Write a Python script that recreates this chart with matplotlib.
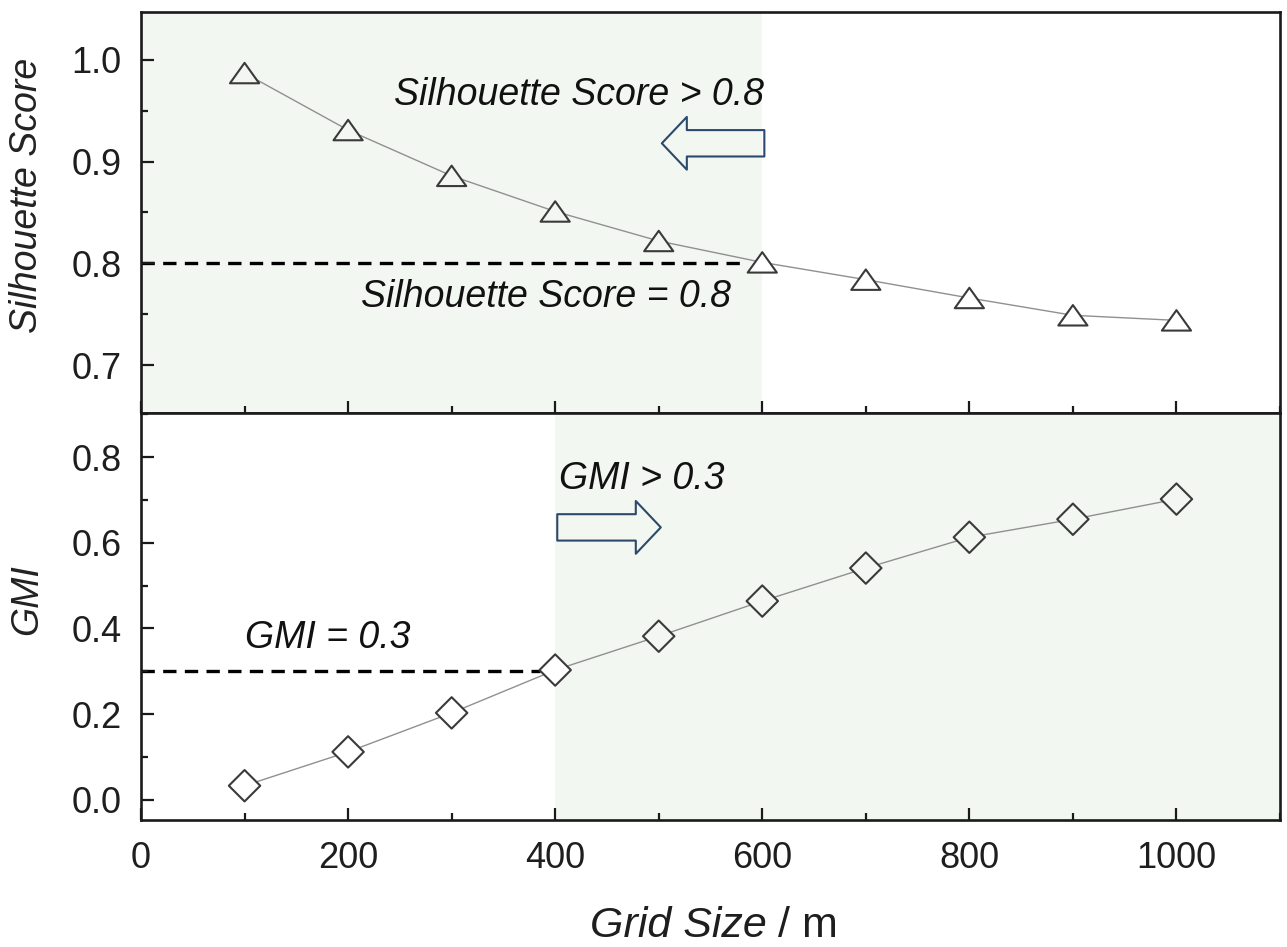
import matplotlib
matplotlib.use("Agg")
import matplotlib.pyplot as plt
from matplotlib.patches import FancyArrowPatch
from matplotlib.ticker import MultipleLocator
from matplotlib.path import Path

plt.rcParams['font.family'] = ['Liberation Sans', 'DejaVu Sans']

grid_size = [100, 200, 300, 400, 500, 600, 700, 800, 900, 1000]
silhouette = [0.987, 0.931, 0.886, 0.851, 0.822, 0.801, 0.784, 0.766, 0.749, 0.744]
gmi = [0.033, 0.112, 0.203, 0.303, 0.382, 0.464, 0.541, 0.613, 0.655, 0.702]
sil_threshold = 0.8
gmi_threshold = 0.3
sil_limit_x = 600
gmi_limit_x = 400

W, H = 1287, 947
fig = plt.figure(figsize=(W / 100, H / 100), dpi=100)
L, R = 141 / W, 1280 / W
y_top, y_mid, y_bot = 1 - 12 / H, 1 - 413 / H, 1 - 820 / H
ax1 = fig.add_axes([L, y_mid, R - L, y_top - y_mid])
ax2 = fig.add_axes([L, y_bot, R - L, y_mid - y_bot], sharex=ax1)

shade = '#f3f7f1'
line_c = '#909090'
edge_c = '#3a3a3a'
arrow_c = '#2b4a6b'
dash = (0, (4, 2.5))

tri = Path([(0, 0.7), (-1, -0.7), (1, -0.7), (0, 0.7)],
           [Path.MOVETO, Path.LINETO, Path.LINETO, Path.CLOSEPOLY])

# Top panel
ax1.set_xlim(0, 1100)
ax1.set_ylim(0.653, 1.047)
ax1.axvspan(0, sil_limit_x, color=shade, zorder=0, lw=0)
ax1.plot([0, 580], [sil_threshold, sil_threshold], ls=dash, color='black', lw=2.4, zorder=1)
ax1.plot(grid_size, silhouette, color=line_c, lw=1.0, zorder=2)
fc1 = [shade if x < sil_limit_x else 'white' for x in grid_size]
ax1.scatter(grid_size, silhouette, marker=tri, s=21**2, facecolors=fc1,
            edgecolors=edge_c, linewidths=1.5, zorder=3)
ax1.text(602, 0.965, 'Silhouette Score > 0.8', style='italic', fontsize=27,
         ha='right', va='center', color='#111')
ax1.text(391, 0.767, 'Silhouette Score = 0.8', style='italic', fontsize=27,
         ha='center', va='center', color='#111')
a1 = FancyArrowPatch((602, 0.918), (503, 0.918),
                     arrowstyle='simple,head_width=38,head_length=18,tail_width=19',
                     mutation_scale=1, shrinkA=0, shrinkB=0, fc='none', ec=arrow_c, lw=1.5, zorder=3)
ax1.add_patch(a1)

# Bottom panel
ax2.set_ylim(-0.047, 0.903)
ax2.axvspan(gmi_limit_x, 1100, color=shade, zorder=0, lw=0)
ax2.plot([0, 385], [gmi_threshold, gmi_threshold], ls=dash, color='black', lw=2.4, zorder=1)
ax2.plot(grid_size, gmi, color=line_c, lw=1.0, zorder=2)
fc2 = [shade if x > gmi_limit_x else 'white' for x in grid_size]
ax2.scatter(grid_size, gmi, marker='D', s=16**2, facecolors=fc2,
            edgecolors=edge_c, linewidths=1.5, zorder=3)
ax2.text(404, 0.75, 'GMI > 0.3', style='italic', fontsize=27,
         ha='left', va='center', color='#111')
ax2.text(100, 0.378, 'GMI = 0.3', style='italic', fontsize=27,
         ha='left', va='center', color='#111')
a2 = FancyArrowPatch((402, 0.636), (502, 0.636),
                     arrowstyle='simple,head_width=38,head_length=18,tail_width=19',
                     mutation_scale=1, shrinkA=0, shrinkB=0, fc='none', ec=arrow_c, lw=1.5, zorder=3)
ax2.add_patch(a2)

for ax in (ax1, ax2):
    for sp in ax.spines.values():
        sp.set_linewidth(1.9)
        sp.set_color('#1a1a1a')
    ax.xaxis.set_major_locator(MultipleLocator(200))
    ax.xaxis.set_minor_locator(MultipleLocator(100))
    ax.tick_params(which='both', direction='in', top=False, right=False,
                   color='#1a1a1a', labelcolor='#1e1e1e', labelsize=26)
    ax.tick_params(which='major', length=9, width=1.6)
    ax.tick_params(which='minor', length=5, width=1.6)
    ax.tick_params(axis='y', pad=14)
    ax.tick_params(axis='x', pad=15)

ax1.yaxis.set_major_locator(MultipleLocator(0.1))
ax1.yaxis.set_minor_locator(MultipleLocator(0.05))
ax2.yaxis.set_major_locator(MultipleLocator(0.2))
ax2.yaxis.set_minor_locator(MultipleLocator(0.1))
ax1.tick_params(axis='x', labelbottom=False)
ax1.yaxis.set_major_formatter(plt.FuncFormatter(lambda v, p: f'{v:.1f}'))
ax2.yaxis.set_major_formatter(plt.FuncFormatter(lambda v, p: f'{v:.1f}'))

fig.text(27 / W, 1 - 195 / H, 'Silhouette Score', rotation=90, style='italic',
         fontsize=27, ha='center', va='center', color='#222')
fig.text(27 / W, 1 - 600 / H, 'GMI', rotation=90, style='italic',
         fontsize=27, ha='center', va='center', color='#222')

t1 = fig.text(0, 0, 'Grid Size', style='italic', fontsize=31, color='#1e1e1e', va='baseline')
t2 = fig.text(0, 0, ' / m', fontsize=31, color='#1e1e1e', va='baseline')
fig.canvas.draw()
r = fig.canvas.get_renderer()
w1 = t1.get_window_extent(r).width
w2 = t2.get_window_extent(r).width
x0 = 714 - (w1 + w2) / 2
t1.set_position((x0 / W, 1 - 937 / H))
t2.set_position(((x0 + w1) / W, 1 - 937 / H))

fig.savefig('out.png', dpi=100)
